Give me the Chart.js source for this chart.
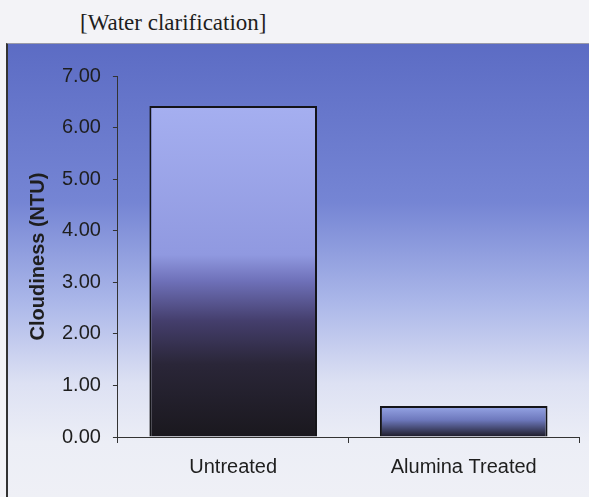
<!DOCTYPE html>
<html>
<head>
<meta charset="utf-8">
<script src="https://cdn.jsdelivr.net/npm/chart.js@4/dist/chart.umd.min.js"></script>
<style>
  html, body { margin: 0; padding: 0; width: 589px; height: 497px; overflow: hidden; background: #f3f3f7; }
  #title { position: absolute; left: 80px; top: 10px; font-family: "Liberation Serif", "Times New Roman", serif; font-size: 23px; color: #1e1e1e; white-space: nowrap; }
  #wrap { position: absolute; left: 6px; top: 43px; width: 583px; height: 454px; border-left: 2px solid #333; border-top: 1px solid #9a9aa8; box-sizing: border-box; }
  canvas { display: block; }
</style>
</head>
<body>
<div id="title">[Water clarification]</div>
<div id="wrap"><canvas id="c" width="581" height="453"></canvas></div>
<script>
const categories = ["Untreated", "Alumina Treated"];
const cloudiness = [6.42, 0.60];
const yTicks = [0, 1, 2, 3, 4, 5, 6, 7];

const barStops = [
  [[0, "#a5aff0"], [0.45, "#9099e0"], [0.53, "#6e70b8"], [0.65, "#443e6c"], [0.78, "#2a2638"], [1, "#1a181e"]],
  [[0, "#97a6e6"], [0.45, "#6d78bc"], [1, "#1c1a26"]]
];

const bgPlugin = {
  id: "bg",
  beforeDraw(chart) {
    const { ctx, width, height } = chart;
    const g = ctx.createLinearGradient(0, 0, 0, height);
    g.addColorStop(0, "#5c6cc4");
    g.addColorStop(0.35, "#7585d4");
    g.addColorStop(0.57, "#abb7e9");
    g.addColorStop(0.75, "#dde1f3");
    g.addColorStop(0.88, "#eceef6");
    g.addColorStop(1, "#eff0f6");
    ctx.save();
    ctx.fillStyle = g;
    ctx.fillRect(0, 0, width, height);
    ctx.restore();
  }
};

function barFill(context) {
  const chart = context.chart;
  const { ctx, chartArea, scales } = chart;
  if (!chartArea || !scales.y) return "#7a86d0";
  const i = context.dataIndex;
  const top = scales.y.getPixelForValue(cloudiness[i]);
  const base = scales.y.getPixelForValue(0);
  const g = ctx.createLinearGradient(0, top, 0, base);
  barStops[i].forEach(s => g.addColorStop(s[0], s[1]));
  return g;
}

new Chart(document.getElementById("c"), {
  type: "bar",
  data: {
    labels: categories,
    datasets: [{
      data: cloudiness,
      backgroundColor: barFill,
      borderColor: "#141418",
      borderWidth: 2,
      borderSkipped: "bottom",
      barPercentage: 1,
      categoryPercentage: 0.727
    }]
  },
  options: {
    responsive: false,
    animation: false,
    devicePixelRatio: 1,
    layout: { padding: { top: 32, right: 10, bottom: 6, left: 18 } },
    plugins: { legend: { display: false }, tooltip: { enabled: false }, title: { display: false } },
    scales: {
      x: {
        offset: true,
        grid: { display: true, offset: true, drawOnChartArea: false, drawTicks: true, tickLength: 6, color: "#333", lineWidth: 1 },
        border: { display: true, color: "#333", width: 1 },
        ticks: { color: "#1e1e1e", padding: 12, font: { family: "Liberation Sans, Arial, sans-serif", size: 20 } }
      },
      y: {
        min: 0, max: 7,
        afterBuildTicks(axis) { axis.ticks = yTicks.map(v => ({ value: v })); },
        grid: { display: true, drawOnChartArea: false, drawTicks: true, tickLength: 5, color: "#333", lineWidth: 1 },
        border: { display: true, color: "#333", width: 1 },
        ticks: { color: "#1e1e1e", padding: 12, font: { family: "Liberation Sans, Arial, sans-serif", size: 20 }, callback: v => Number(v).toFixed(2) },
        title: { display: true, text: "Cloudiness (NTU)", color: "#1e1e1e", padding: { top: 0, bottom: 0 }, font: { family: "Liberation Sans, Arial, sans-serif", size: 20, weight: "bold" } }
      }
    }
  },
  plugins: [bgPlugin]
});
</script>
</body>
</html>
